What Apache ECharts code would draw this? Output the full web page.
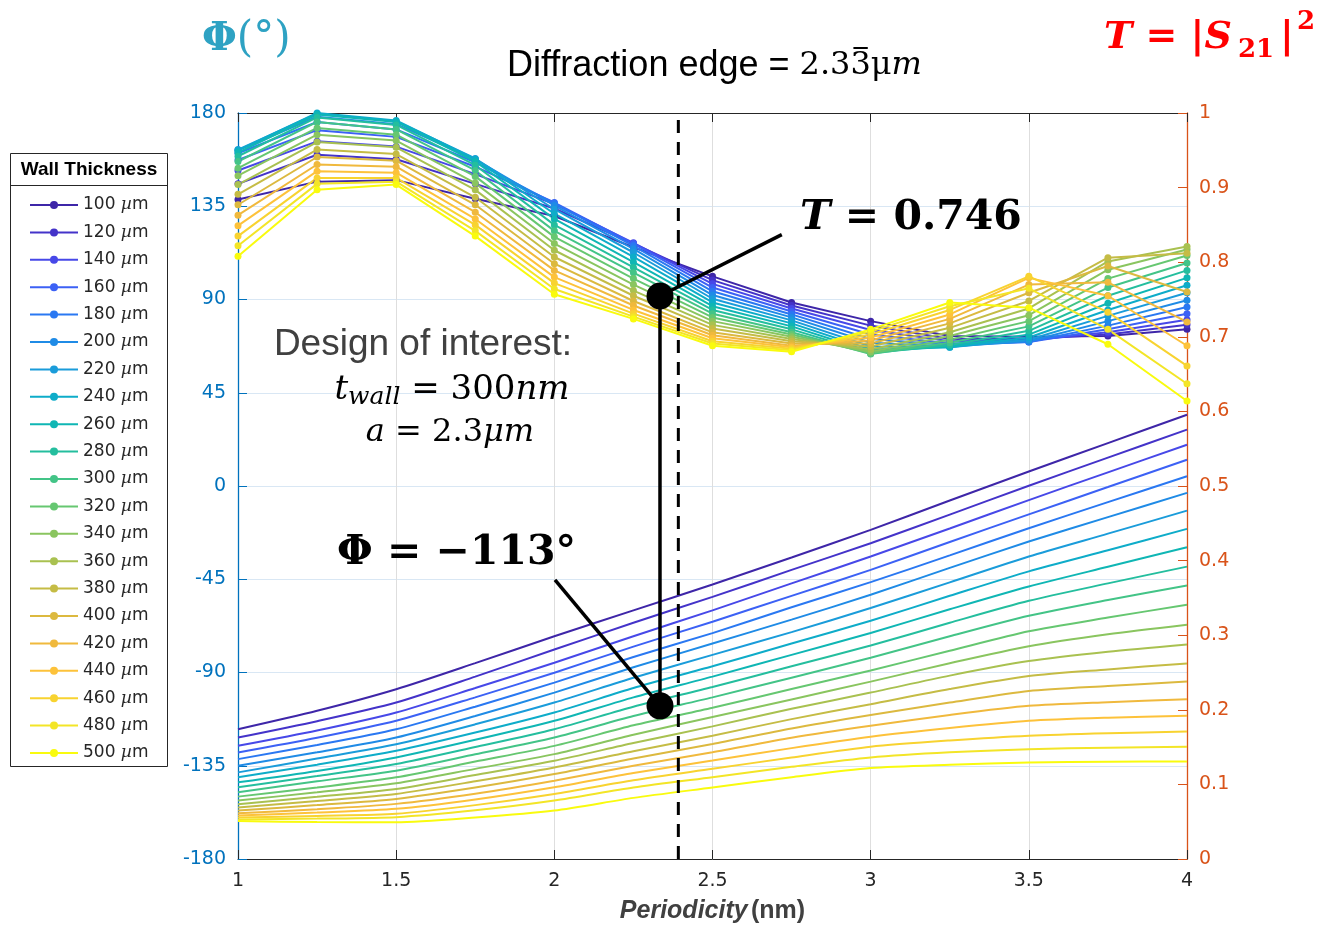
<!DOCTYPE html>
<html>
<head>
<meta charset="utf-8">
<script src="https://cdn.jsdelivr.net/npm/echarts@6/dist/echarts.min.js"></script>
<style>
html,body{margin:0;padding:0;background:#fff;}
#chart{width:1321px;height:929px;}
</style>
</head>
<body>
<div id="chart"></div>
<script>
// ---------------- DATA ----------------
const periodicity = [1, 1.25, 1.5, 1.75, 2, 2.25, 2.5, 2.75, 3, 3.25, 3.5, 3.75, 4];
const wallThickness = [100, 120, 140, 160, 180, 200, 220, 240, 260, 280, 300, 320, 340, 360, 380, 400, 420, 440, 460, 480, 500];

// Transmission T = |S21|^2 (right axis)
const T_100 = [0.884, 0.908, 0.910, 0.885, 0.862, 0.820, 0.781, 0.746, 0.721, 0.701, 0.700, 0.701, 0.710];
const T_120 = [0.905, 0.944, 0.938, 0.905, 0.872, 0.825, 0.776, 0.742, 0.715, 0.697, 0.697, 0.703, 0.716];
const T_140 = [0.923, 0.962, 0.955, 0.918, 0.878, 0.826, 0.771, 0.738, 0.709, 0.694, 0.695, 0.706, 0.723];
const T_160 = [0.937, 0.977, 0.968, 0.928, 0.880, 0.825, 0.766, 0.734, 0.703, 0.691, 0.693, 0.710, 0.731];
const T_180 = [0.946, 0.988, 0.978, 0.934, 0.879, 0.822, 0.761, 0.730, 0.697, 0.689, 0.693, 0.715, 0.740];
const T_200 = [0.950, 0.995, 0.985, 0.938, 0.876, 0.818, 0.756, 0.726, 0.692, 0.687, 0.694, 0.721, 0.749];
const T_220 = [0.951, 0.999, 0.989, 0.939, 0.871, 0.813, 0.751, 0.722, 0.687, 0.686, 0.696, 0.728, 0.759];
const T_240 = [0.950, 1.000, 0.990, 0.938, 0.865, 0.807, 0.746, 0.718, 0.683, 0.686, 0.699, 0.736, 0.769];
const T_260 = [0.947, 0.998, 0.988, 0.935, 0.858, 0.800, 0.741, 0.714, 0.680, 0.687, 0.703, 0.745, 0.779];
const T_280 = [0.942, 0.994, 0.984, 0.930, 0.850, 0.793, 0.736, 0.710, 0.678, 0.689, 0.708, 0.755, 0.789];
const T_300 = [0.935, 0.988, 0.978, 0.923, 0.842, 0.786, 0.731, 0.706, 0.677, 0.692, 0.714, 0.766, 0.799];
const T_320 = [0.926, 0.980, 0.971, 0.915, 0.834, 0.778, 0.726, 0.703, 0.678, 0.696, 0.721, 0.778, 0.809];
const T_340 = [0.916, 0.971, 0.963, 0.906, 0.825, 0.770, 0.721, 0.700, 0.680, 0.701, 0.729, 0.790, 0.817];
const T_360 = [0.904, 0.961, 0.954, 0.897, 0.816, 0.762, 0.716, 0.697, 0.683, 0.706, 0.738, 0.801, 0.821];
const T_380 = [0.891, 0.951, 0.945, 0.887, 0.807, 0.755, 0.711, 0.694, 0.687, 0.712, 0.748, 0.806, 0.812];
const T_400 = [0.877, 0.941, 0.936, 0.877, 0.798, 0.748, 0.706, 0.691, 0.691, 0.718, 0.759, 0.795, 0.760];
const T_420 = [0.863, 0.931, 0.928, 0.867, 0.789, 0.742, 0.702, 0.688, 0.695, 0.724, 0.770, 0.773, 0.720];
const T_440 = [0.849, 0.922, 0.920, 0.858, 0.780, 0.736, 0.698, 0.686, 0.699, 0.730, 0.779, 0.755, 0.688];
const T_460 = [0.835, 0.913, 0.913, 0.850, 0.772, 0.731, 0.694, 0.684, 0.703, 0.736, 0.781, 0.733, 0.661];
const T_480 = [0.822, 0.905, 0.908, 0.842, 0.764, 0.727, 0.691, 0.682, 0.707, 0.741, 0.765, 0.710, 0.637];
const T_500 = [0.808, 0.897, 0.904, 0.835, 0.757, 0.724, 0.688, 0.680, 0.710, 0.746, 0.739, 0.690, 0.614];

// Phase Φ in degrees (left axis)
const P_100 = [-117.4, -108.5, -98.1, -85.5, -72.5, -60.0, -47.5, -34.5, -21.2, -7.0, 7.0, 20.7, 34.4];
const P_120 = [-121.4, -113.5, -104.5, -92.0, -78.9, -66.0, -53.5, -40.5, -27.6, -13.8, 0.1, 13.7, 27.2];
const P_140 = [-125.4, -118.0, -109.3, -97.5, -85.3, -72.5, -60.0, -47.0, -34.0, -20.5, -6.8, 6.6, 19.9];
const P_160 = [-128.6, -121.5, -113.3, -102.0, -90.1, -77.5, -65.5, -53.0, -40.5, -27.0, -13.7, -0.5, 12.7];
const P_180 = [-131.8, -125.0, -117.4, -106.5, -94.9, -82.5, -71.0, -58.5, -46.4, -33.5, -20.4, -7.8, 4.7];
const P_200 = [-135.0, -128.5, -121.4, -111.0, -99.7, -87.5, -76.0, -64.5, -52.5, -39.5, -26.8, -15.0, -3.3];
const P_220 = [-138.2, -131.5, -124.6, -115.0, -104.5, -92.5, -81.5, -70.5, -58.9, -46.5, -34.0, -23.0, -11.9];
const P_240 = [-140.6, -134.5, -127.8, -119.0, -109.3, -97.5, -87.0, -76.0, -65.0, -53.0, -41.2, -31.0, -20.7];
const P_260 = [-143.0, -137.5, -131.0, -122.5, -113.3, -102.0, -92.0, -81.5, -70.9, -59.5, -48.5, -39.0, -29.6];
const P_280 = [-145.4, -140.0, -134.2, -126.0, -117.4, -106.5, -97.0, -87.0, -77.0, -66.0, -55.4, -47.0, -38.9];
const P_300 = [-147.8, -142.5, -137.4, -129.5, -121.4, -111.0, -102.0, -92.5, -82.9, -72.5, -62.6, -55.0, -48.0];
const P_320 = [-149.9, -145.5, -140.6, -133.0, -125.4, -115.5, -107.0, -98.0, -89.0, -79.5, -70.1, -63.5, -57.3];
const P_340 = [-151.8, -147.8, -143.5, -136.5, -129.4, -120.0, -111.5, -103.0, -94.4, -85.5, -77.3, -71.5, -66.9];
const P_360 = [-153.6, -150.0, -146.2, -139.5, -132.6, -124.0, -116.0, -107.5, -99.7, -91.5, -84.5, -80.0, -76.5];
const P_380 = [-155.2, -152.0, -148.6, -142.5, -135.8, -128.0, -120.5, -112.5, -105.3, -98.0, -91.7, -88.5, -85.6];
const P_400 = [-156.6, -154.0, -151.0, -145.5, -139.0, -131.5, -124.5, -117.0, -110.5, -104.5, -98.9, -96.5, -94.4];
const P_420 = [-157.9, -156.0, -153.4, -148.5, -142.2, -135.0, -128.5, -121.5, -115.7, -110.5, -106.1, -104.3, -102.9];
const P_440 = [-159.0, -157.6, -155.8, -151.3, -145.4, -138.5, -132.5, -126.5, -121.0, -116.8, -113.3, -111.8, -110.9];
const P_460 = [-160.0, -159.2, -158.2, -154.0, -148.6, -142.0, -136.5, -131.0, -125.8, -122.8, -120.5, -119.3, -118.5];
const P_480 = [-160.9, -160.5, -159.8, -156.5, -151.8, -145.5, -140.5, -135.5, -131.0, -128.5, -127.0, -126.3, -125.8];
const P_500 = [-161.7, -162.2, -162.3, -160.0, -156.6, -150.5, -145.5, -140.5, -136.1, -134.5, -133.4, -133.1, -132.9];

// Axis ticks
const xTicks = {min: 1, max: 4, step: 0.5};
const phaseTicks = {min: -180, max: 180, step: 45};
const transTicks = {min: 0, max: 1, step: 0.1};

// Annotation values
const diffractionEdgeX = 2.392;
const designX = 2.334;
const designT = 0.7547;
const designPhase = -106.1;
const tLabelAnchor = [2.719, 0.837];
const phaseLabelAnchor = [2.002, -45.3];

// ---------------- STYLE ----------------
const parula = ['#3e26a8','#4433c9','#4748e8','#3c61f5','#2a78f2','#1f8be6','#1a9cda','#0eacc9','#0fb6b4','#24be9e','#43c487',
                '#66c771','#8ac55f','#a9c150','#c5bc45','#dcb93f','#f0b93d','#fdc23a','#f8d330','#f3e527','#f9fb0e'];

const transRows = [T_100,T_120,T_140,T_160,T_180,T_200,T_220,T_240,T_260,T_280,T_300,T_320,T_340,T_360,T_380,T_400,T_420,T_440,T_460,T_480,T_500];
const phaseRows = [P_100,P_120,P_140,P_160,P_180,P_200,P_220,P_240,P_260,P_280,P_300,P_320,P_340,P_360,P_380,P_400,P_420,P_440,P_460,P_480,P_500];

const SANS = "'Liberation Sans', Arial, sans-serif";
const DSANS = "'DejaVu Sans', sans-serif";
const SERIF = "'DejaVu Serif', serif";
const TEAL = '#2ea2c3';

const names = wallThickness.map(t => t + ' µm');

const series = [];
wallThickness.forEach((t, k) => {
  series.push({
    name: names[k], type: 'line', xAxisIndex: 0, yAxisIndex: 1,
    data: periodicity.map((x, j) => [x, transRows[k][j]]),
    symbol: 'circle', symbolSize: 7, showSymbol: true,
    lineStyle: {width: 2, color: parula[k]}, itemStyle: {color: parula[k]},
    z: 3, animation: false, silent: true
  });
});
wallThickness.forEach((t, k) => {
  series.push({
    name: names[k], type: 'line', xAxisIndex: 0, yAxisIndex: 0,
    data: periodicity.map((x, j) => [x, phaseRows[k][j]]),
    symbol: 'none', smooth: 0.25,
    lineStyle: {width: 2, color: parula[k]}, itemStyle: {color: parula[k]},
    z: 2, animation: false, silent: true
  });
});
// dashed diffraction edge
series.push({
  type: 'line', xAxisIndex: 0, yAxisIndex: 0, symbol: 'none', silent: true, z: 6,
  data: [[diffractionEdgeX, phaseTicks.min], [diffractionEdgeX, 177]],
  lineStyle: {color: '#000', width: 3, type: [13, 9]}
});
// connecting vertical line between design points
series.push({
  type: 'line', xAxisIndex: 0, yAxisIndex: 1, symbol: 'none', silent: true, z: 7,
  data: [[designX, designT], [designX, (designPhase - phaseTicks.min) / (phaseTicks.max - phaseTicks.min)]],
  lineStyle: {color: '#000', width: 3.5}
});
series.push({
  type: 'line', xAxisIndex: 0, yAxisIndex: 1, symbol: 'none', silent: true, z: 7,
  data: [[designX, designT], tLabelAnchor],
  lineStyle: {color: '#000', width: 3.5}
});
series.push({
  type: 'line', xAxisIndex: 0, yAxisIndex: 0, symbol: 'none', silent: true, z: 7,
  data: [[designX, designPhase], phaseLabelAnchor],
  lineStyle: {color: '#000', width: 3.5}
});
series.push({
  type: 'scatter', xAxisIndex: 0, yAxisIndex: 1, silent: true, z: 8,
  symbolSize: 27, itemStyle: {color: '#000', opacity: 1},
  data: [[designX, designT]]
});
series.push({
  type: 'scatter', xAxisIndex: 0, yAxisIndex: 0, silent: true, z: 8,
  symbolSize: 27, itemStyle: {color: '#000', opacity: 1},
  data: [[designX, designPhase]]
});

// measure text for the repeating-decimal bar in the title
const measureCtx = document.createElement('canvas').getContext('2d');
function textW(str, font) { measureCtx.font = font; return measureCtx.measureText(str).width; }
const titleX = 507, titleY = 66;
const titleSansFont = "36px 'Liberation Sans'";
const titleSerifFont = "32px 'DejaVu Serif'";
const barX1 = titleX + textW('Diffraction edge = ', titleSansFont) + textW('2.3', titleSerifFont) + 3;
const barX2 = barX1 + textW('3', titleSerifFont) - 6;

const chart = echarts.init(document.getElementById('chart'), null, {renderer: 'canvas'});
const option = {
  animation: false,
  backgroundColor: '#ffffff',
  grid: {left: 238, right: 134, top: 113, bottom: 67, containLabel: false},
  xAxis: [{
    type: 'value', min: xTicks.min, max: xTicks.max, interval: xTicks.step, position: 'bottom',
    axisLine: {onZero: false, lineStyle: {color: '#262626', width: 1}},
    axisTick: {inside: true, length: 9, lineStyle: {color: '#262626'}},
    axisLabel: {color: '#262626', fontSize: 19, fontFamily: DSANS, margin: 13},
    splitLine: {show: true, lineStyle: {color: '#dedede', width: 1}},
    name: '{i|Periodicity} {b|(nm)}', nameLocation: 'middle', nameGap: 40,
    nameTextStyle: {rich: {
      i: {fontFamily: SANS, fontSize: 25, fontStyle: 'italic', fontWeight: 'bold', color: '#404040'},
      b: {fontFamily: SANS, fontSize: 25, fontWeight: 'bold', color: '#404040'}
    }}
  }, {
    type: 'value', min: xTicks.min, max: xTicks.max, interval: xTicks.step, position: 'top',
    axisLine: {onZero: false, lineStyle: {color: '#262626', width: 1}},
    axisTick: {inside: true, length: 9, lineStyle: {color: '#262626'}},
    axisLabel: {show: false}, splitLine: {show: false}
  }],
  yAxis: [{
    type: 'value', min: phaseTicks.min, max: phaseTicks.max, interval: phaseTicks.step, position: 'left',
    axisLine: {show: true, onZero: false, lineStyle: {color: '#0072bd', width: 1.3}},
    axisTick: {show: true, inside: true, length: 9, lineStyle: {color: '#0072bd'}},
    axisLabel: {color: '#0072bd', fontSize: 19, fontFamily: DSANS, margin: 12},
    splitLine: {show: true, lineStyle: {color: '#d9e7f4', width: 1}}
  }, {
    type: 'value', min: transTicks.min, max: transTicks.max, interval: transTicks.step, position: 'right',
    axisLine: {show: true, onZero: false, lineStyle: {color: '#d95319', width: 1.3}},
    axisTick: {show: true, inside: true, length: 9, lineStyle: {color: '#d95319'}},
    axisLabel: {color: '#d95319', fontSize: 19, fontFamily: DSANS, margin: 12},
    splitLine: {show: false}
  }],
  legend: {
    orient: 'vertical', left: 24, top: 191,
    itemWidth: 48, itemHeight: 10, itemGap: 9.4,
    data: names, selectedMode: false,
    formatter: function (name) {
      const num = name.split(' ')[0];
      return '{n|' + num + '}{u| µ}{n|m}';
    },
    textStyle: {
      color: '#262626', fontSize: 17, lineHeight: 18, fontFamily: DSANS,
      rich: {
        n: {fontFamily: DSANS, fontSize: 17, color: '#262626', lineHeight: 18},
        u: {fontFamily: SERIF, fontSize: 17, fontStyle: 'italic', color: '#262626', lineHeight: 18}
      }
    }
  },
  graphic: [
    {type: 'rect', z: 0, shape: {x: 10.5, y: 153.5, width: 157, height: 613},
     style: {fill: '#fff', stroke: '#262626', lineWidth: 1}},
    {type: 'line', z: 1, shape: {x1: 10.5, y1: 185.5, x2: 167.5, y2: 185.5},
     style: {stroke: '#262626', lineWidth: 1}},
    {type: 'text', z: 1, x: 89, y: 170,
     style: {text: 'Wall Thickness', fontFamily: SANS, fontSize: 19, fontWeight: 'bold', fill: '#000', align: 'center', verticalAlign: 'middle'}},
    // Φ(°)
    {type: 'text', z: 10, x: 202, y: 40,
     style: {text: '{p|Φ}{q|(°)}', align: 'left', verticalAlign: 'middle', fill: TEAL,
       rich: {p: {fontFamily: SERIF, fontSize: 40, fontWeight: 'bold', fill: TEAL, color: TEAL},
              q: {fontFamily: SERIF, fontSize: 42, fill: TEAL, color: TEAL}}}},
    // T = |S21|^2
    {type: 'text', z: 10, x: 1104, y: 38,
     style: {text: 'T = |S', align: 'left', verticalAlign: 'middle', fontFamily: SERIF, fontSize: 38, fontWeight: 'bold', fontStyle: 'italic', fill: '#ff0000'}},
    {type: 'text', z: 10, x: 1238, y: 50,
     style: {text: '21', align: 'left', verticalAlign: 'middle', fontFamily: SERIF, fontSize: 26, fontWeight: 'bold', fill: '#ff0000'}},
    {type: 'text', z: 10, x: 1280, y: 38,
     style: {text: '|', align: 'left', verticalAlign: 'middle', fontFamily: SERIF, fontSize: 38, fontWeight: 'bold', fill: '#ff0000'}},
    {type: 'text', z: 10, x: 1297, y: 22,
     style: {text: '2', align: 'left', verticalAlign: 'middle', fontFamily: SERIF, fontSize: 26, fontWeight: 'bold', fill: '#ff0000'}},
    // title
    {type: 'text', z: 10, x: titleX, y: titleY,
     style: {text: '{a|Diffraction edge = }{b|2.33μ}{c|m}', align: 'left', verticalAlign: 'middle',
       rich: {a: {fontFamily: SANS, fontSize: 36, color: '#000'},
              b: {fontFamily: SERIF, fontSize: 32, color: '#000'},
              c: {fontFamily: SERIF, fontSize: 32, fontStyle: 'italic', color: '#000'}}}},
    {type: 'rect', z: 11, shape: {x: barX1, y: 47, width: barX2 - barX1, height: 2},
     style: {fill: '#000'}},
    // Design of interest
    {type: 'text', z: 10, x: 423, y: 345,
     style: {text: 'Design of interest:', align: 'center', verticalAlign: 'middle', fontFamily: SANS, fontSize: 37, fill: '#404040'}},
    {type: 'text', z: 10, x: 452, y: 390,
     style: {text: '{i|t}{s|wall}{n| = 300}{i|nm}', align: 'center', verticalAlign: 'middle',
       rich: {i: {fontFamily: SERIF, fontSize: 34, fontStyle: 'italic', color: '#404040'},
              s: {fontFamily: SERIF, fontSize: 25, fontStyle: 'italic', color: '#404040', verticalAlign: 'bottom', padding: [14, 0, 0, 0]},
              n: {fontFamily: SERIF, fontSize: 34, color: '#404040'}}}},
    {type: 'text', z: 10, x: 450, y: 433,
     style: {text: '{i|a}{n| = 2.3}{i|μm}', align: 'center', verticalAlign: 'middle',
       rich: {i: {fontFamily: SERIF, fontSize: 32, fontStyle: 'italic', color: '#404040'},
              n: {fontFamily: SERIF, fontSize: 32, color: '#404040'}}}},
    // T = 0.746
    {type: 'text', z: 10, x: 800, y: 218,
     style: {text: '{i|T}{n| = 0.746}', align: 'left', verticalAlign: 'middle',
       rich: {i: {fontFamily: SERIF, fontSize: 41, fontStyle: 'italic', fontWeight: 'bold', color: '#000'},
              n: {fontFamily: SERIF, fontSize: 41, fontWeight: 'bold', color: '#000'}}}},
    // Φ = −113°
    {type: 'text', z: 10, x: 337, y: 553,
     style: {text: 'Φ = −113°', align: 'left', verticalAlign: 'middle', fontFamily: SERIF, fontSize: 41, fontWeight: 'bold', fill: '#000'}}
  ],
  series: series
};
chart.setOption(option);
</script>
</body>
</html>
